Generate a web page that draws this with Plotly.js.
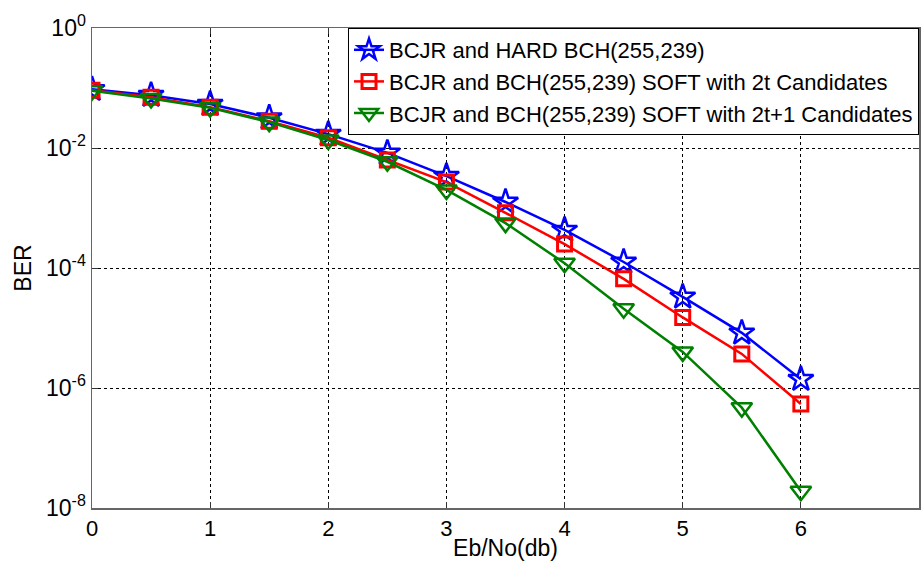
<!DOCTYPE html>
<html>
<head>
<meta charset="utf-8">
<script src="https://cdn.plot.ly/plotly-3.0.1.min.js"></script>
<style>html,body{margin:0;padding:0;background:#fff;}#chart{width:923px;height:569px;}</style>
</head>
<body>
<div id="chart"></div>
<script>
const ebno = [0, 0.5, 1, 1.5, 2, 2.5, 3, 3.5, 4, 4.5, 5, 5.5, 6];
const berHard = [0.095, 0.076, 0.054, 0.032, 0.017, 0.0083, 0.0034, 0.00126, 0.00043, 0.000126, 0.000033, 0.0000083, 0.0000014];
const berSoft2t = [0.092, 0.07, 0.048, 0.028, 0.0148, 0.0063, 0.0027, 0.00083, 0.00025, 0.000066, 0.000015, 0.0000037, 0.00000054];
const berSoft2t1 = [0.09, 0.067, 0.047, 0.027, 0.0136, 0.0059, 0.002, 0.00056, 0.00012, 0.000021, 0.000004, 0.00000047, 0.000000019];
const names = ["BCJR and HARD BCH(255,239)", "BCJR and BCH(255,239) SOFT with 2t Candidates", "BCJR and BCH(255,239) SOFT with 2t+1 Candidates"];
const yTickVals = [1, 1e-2, 1e-4, 1e-6, 1e-8];
const yTickText = ["10<sup>0</sup>", "10<sup>-2</sup>", "10<sup>-4</sup>", "10<sup>-6</sup>", "10<sup>-8</sup>"];
const xTickVals = [0, 1, 2, 3, 4, 5, 6, 7];

const traces = [
  {x: ebno, y: berHard, name: names[0], mode: 'lines+markers', line: {color: '#0000ff', width: 2.5},
   marker: {symbol: 'star-open', size: 19, color: '#0000ff', line: {width: 2.5, color: '#0000ff'}}},
  {x: ebno, y: berSoft2t, name: names[1], mode: 'lines+markers', line: {color: '#ff0000', width: 2.5},
   marker: {symbol: 'square-open', size: 14, color: '#ff0000', line: {width: 3, color: '#ff0000'}}},
  {x: ebno, y: berSoft2t1, name: names[2], mode: 'lines+markers', line: {color: '#008000', width: 2.5},
   marker: {symbol: 'triangle-down-open', size: 18, color: '#008000', line: {width: 2.5, color: '#008000'}}}
];

const layout = {
  width: 923, height: 569,
  margin: {l: 92, r: 4, t: 28, b: 61},
  paper_bgcolor: '#fff', plot_bgcolor: '#fff',
  font: {family: 'Liberation Sans, Arial, sans-serif', size: 22, color: '#000'},
  showlegend: true,
  legend: {x: 1, y: 1, xanchor: 'right', yanchor: 'top', bgcolor: '#fff', bordercolor: '#000', borderwidth: 1,
           font: {size: 22}, tracegroupgap: 0, itemwidth: 30},
  xaxis: {range: [0, 7], tickvals: xTickVals, ticks: 'inside', ticklen: 6, tickcolor: '#333',
          tickfont: {size: 22},
          showline: true, linecolor: '#666', linewidth: 1.5, mirror: 'ticks',
          showgrid: true, gridcolor: '#000', griddash: 'dot', gridwidth: 1, zeroline: false,
          title: {text: 'Eb/No(db)', font: {size: 23}, standoff: 0}},
  yaxis: {type: 'log', range: [-8, 0], tickvals: yTickVals, ticktext: yTickText, ticks: 'inside', ticklen: 6, tickcolor: '#333',
          tickfont: {size: 23},
          showline: true, linecolor: '#666', linewidth: 1.5, mirror: 'ticks',
          showgrid: true, gridcolor: '#000', griddash: 'dot', gridwidth: 1, zeroline: false,
          title: {text: 'BER', font: {size: 23}, standoff: 8}}
};
Plotly.newPlot('chart', traces, layout, {displayModeBar: false, staticPlot: true});
</script>
</body>
</html>
